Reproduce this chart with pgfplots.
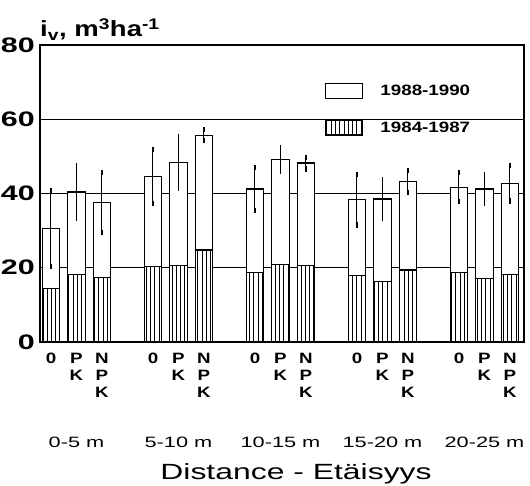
\documentclass[border=0pt]{standalone}
\usepackage{pgfplots}
\pgfplotsset{compat=1.18}
\usepackage{pgfplotstable}
\usetikzlibrary{patterns.meta}
\usepackage{fontspec}
\setmainfont{Liberation Sans}
\newfontfamily\wf[FakeStretch=1.45]{Liberation Sans}
\newfontfamily\mf[FakeStretch=1.25]{Liberation Sans}

\pgfplotstableread{
x  total err  low
0  30.6  10.3 14.5
1  40.4  7.0  18.1
2  37.6  8.0  17.4
4  44.6  7.3  20.3
5  48.4  7.0  20.5
6  55.7  1.5  24.8
8  41.2  5.7  18.8
9  49.1  3.2  20.8
10 48.2  1.6  20.5
12 38.3  6.8  17.9
13 38.5  5.3  16.4
14 43.2  3.0  19.4
16 41.7  3.9  18.7
17 41.2  4.0  17.2
18 42.8  4.8  18.1
}\data

\pgfplotsset{boxlegend/.style={legend image code/.code={\draw[##1] (0pt,-7.5pt) rectangle (37pt,7.5pt); \path (52pt,0pt);}}}

\begin{document}
\begin{tikzpicture}
\begin{axis}[
  scale only axis,
  width=484pt, height=297pt,
  xmin=-0.43, xmax=18.55,
  ymin=0, ymax=80,
  axis line style={line width=1.3pt},
  ytick={0,20,40,60,80},
  ymajorgrids,
  grid style={black, line width=1pt},
  ytick style={draw=none},
  xtick style={draw=none},
  /pgf/number format/assume math mode=true,
  yticklabel style={font=\wf\bfseries\fontsize{21}{21}\selectfont, anchor=east, inner sep=0pt, xshift=-5pt},
  xtick={0,1,2,4,5,6,8,9,10,12,13,14,16,17,18},
  xticklabels={0,{P\\K},{N\\P\\K},0,{P\\K},{N\\P\\K},0,{P\\K},{N\\P\\K},0,{P\\K},{N\\P\\K},0,{P\\K},{N\\P\\K}},
  xticklabel style={font=\mf\bfseries\fontsize{15}{17}\selectfont, align=center, anchor=north, inner sep=0pt, yshift=-11pt},
  extra x ticks={1,5,9,13,17},
  extra x tick labels={0-5 m,5-10 m,10-15 m,15-20 m,20-25 m},
  extra x tick style={major tick length=0pt, xticklabel style={font=\wf\fontsize{15}{15}\selectfont, anchor=north, inner sep=0pt, yshift=-84pt}},
  xlabel={Distance - Etäisyys},
  xlabel style={font=\wf\fontsize{22}{22}\selectfont, at={(axis description cs:0.529,0)}, anchor=north, inner sep=0pt, yshift=-121pt},
  title={i\textsubscript{v}, m\textsuperscript{3}ha\textsuperscript{-1}},
  title style={font=\mf\bfseries\fontsize{22}{22}\selectfont, at={(rel axis cs:0,1)}, anchor=base west, inner sep=0pt, yshift=2pt},
  legend style={at={(axis description cs:0.589,0.872)}, anchor=north west, draw=none, fill=none,
    font=\mf\bfseries\fontsize{15}{15}\selectfont, row sep=20pt, inner sep=0pt},
  legend cell align=left,
]
\addplot[ybar, bar width=0.68, bar shift=0pt, fill=white, draw=black, line width=1.2pt, boxlegend,
  error bars/.cd, y dir=both, y explicit,
  error bar style={line width=1pt, black},
  error mark options={line width=1.8pt, mark size=2.6pt, black}]
  table[x=x, y=total, y error=err]{\data};
\addlegendentry{1988-1990}
\addplot[ybar, bar width=0.68, bar shift=0pt, draw=black, line width=1.2pt, boxlegend,
  pattern={Lines[angle=90, distance=4.3pt, line width=1pt]}]
  table[x=x, y=low]{\data};
\addlegendentry{1984-1987}
\end{axis}
\path (current axis.south west) ++(-40pt,-144pt) rectangle ++(530pt,486pt);
\end{tikzpicture}
\end{document}
